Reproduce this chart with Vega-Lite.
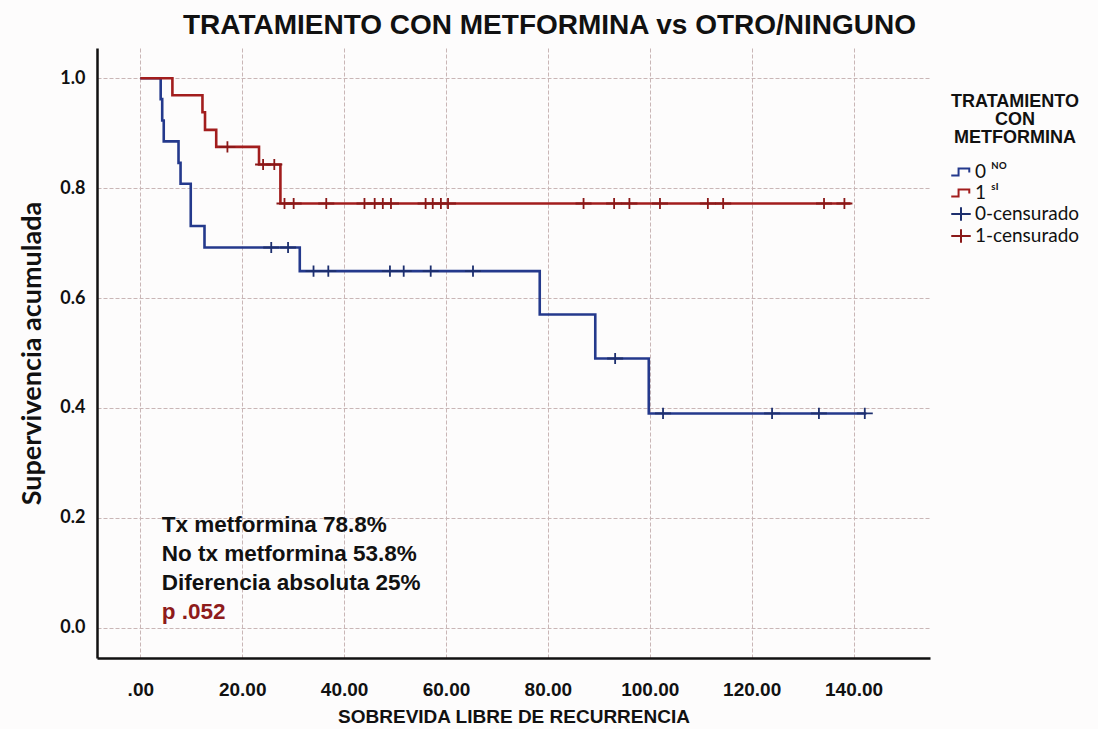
{
  "$schema": "https://vega.github.io/schema/vega-lite/v6.json",
  "width": 833,
  "height": 610,
  "autosize": {"type": "none"},
  "padding": {"left": 97, "top": 48, "right": 168, "bottom": 71},
  "background": "#fdfcfc",
  "title": {
    "text": "TRATAMIENTO CON METFORMINA vs OTRO/NINGUNO",
    "font": "Liberation Sans, Arial, sans-serif",
    "fontSize": 28,
    "fontWeight": "bold",
    "color": "#111111",
    "anchor": "middle",
    "dx": 36,
    "offset": 8
  },
  "datasets": {
    "curvas": [
      {"grupo": "0", "t": 0, "s": 1.0},
      {"grupo": "0", "t": 4.0, "s": 0.962},
      {"grupo": "0", "t": 4.3, "s": 0.923},
      {"grupo": "0", "t": 4.6, "s": 0.885},
      {"grupo": "0", "t": 7.5, "s": 0.846},
      {"grupo": "0", "t": 7.9, "s": 0.808},
      {"grupo": "0", "t": 9.9, "s": 0.731},
      {"grupo": "0", "t": 12.6, "s": 0.692},
      {"grupo": "0", "t": 31.3, "s": 0.649},
      {"grupo": "0", "t": 78.4, "s": 0.57},
      {"grupo": "0", "t": 89.3, "s": 0.49},
      {"grupo": "0", "t": 99.8, "s": 0.39},
      {"grupo": "0", "t": 142.5, "s": 0.39},
      {"grupo": "1", "t": 0, "s": 1.0},
      {"grupo": "1", "t": 6.3, "s": 0.969},
      {"grupo": "1", "t": 12.2, "s": 0.938},
      {"grupo": "1", "t": 12.7, "s": 0.906},
      {"grupo": "1", "t": 14.9, "s": 0.875},
      {"grupo": "1", "t": 23.3, "s": 0.843},
      {"grupo": "1", "t": 27.5, "s": 0.772},
      {"grupo": "1", "t": 139.4, "s": 0.772}
    ],
    "censurados": [
      {"grupo": "0-censurado", "t": 25.7, "s": 0.692},
      {"grupo": "0-censurado", "t": 29.0, "s": 0.692},
      {"grupo": "0-censurado", "t": 34.0, "s": 0.649},
      {"grupo": "0-censurado", "t": 36.9, "s": 0.649},
      {"grupo": "0-censurado", "t": 49.0, "s": 0.649},
      {"grupo": "0-censurado", "t": 51.7, "s": 0.649},
      {"grupo": "0-censurado", "t": 57.0, "s": 0.649},
      {"grupo": "0-censurado", "t": 65.3, "s": 0.649},
      {"grupo": "0-censurado", "t": 93.2, "s": 0.49},
      {"grupo": "0-censurado", "t": 102.6, "s": 0.39},
      {"grupo": "0-censurado", "t": 124.0, "s": 0.39},
      {"grupo": "0-censurado", "t": 133.2, "s": 0.39},
      {"grupo": "0-censurado", "t": 142.2, "s": 0.39},
      {"grupo": "1-censurado", "t": 17.1, "s": 0.875},
      {"grupo": "1-censurado", "t": 24.1, "s": 0.843},
      {"grupo": "1-censurado", "t": 26.3, "s": 0.843},
      {"grupo": "1-censurado", "t": 28.3, "s": 0.772},
      {"grupo": "1-censurado", "t": 30.1, "s": 0.772},
      {"grupo": "1-censurado", "t": 36.5, "s": 0.772},
      {"grupo": "1-censurado", "t": 44.0, "s": 0.772},
      {"grupo": "1-censurado", "t": 46.0, "s": 0.772},
      {"grupo": "1-censurado", "t": 47.6, "s": 0.772},
      {"grupo": "1-censurado", "t": 49.2, "s": 0.772},
      {"grupo": "1-censurado", "t": 56.0, "s": 0.772},
      {"grupo": "1-censurado", "t": 57.4, "s": 0.772},
      {"grupo": "1-censurado", "t": 59.0, "s": 0.772},
      {"grupo": "1-censurado", "t": 60.4, "s": 0.772},
      {"grupo": "1-censurado", "t": 87.0, "s": 0.772},
      {"grupo": "1-censurado", "t": 93.0, "s": 0.772},
      {"grupo": "1-censurado", "t": 96.0, "s": 0.772},
      {"grupo": "1-censurado", "t": 102.0, "s": 0.772},
      {"grupo": "1-censurado", "t": 111.4, "s": 0.772},
      {"grupo": "1-censurado", "t": 114.4, "s": 0.772},
      {"grupo": "1-censurado", "t": 134.2, "s": 0.772},
      {"grupo": "1-censurado", "t": 138.2, "s": 0.772}
    ]
  },
  "layer": [
    {
      "data": {"name": "curvas"},
      "mark": {"type": "line", "interpolate": "step-after", "strokeWidth": 2.6},
      "encoding": {
        "x": {
          "field": "t",
          "type": "quantitative",
          "scale": {"domain": [-8.5, 155], "nice": false, "zero": false},
          "axis": {
            "values": [0, 20, 40, 60, 80, 100, 120, 140],
            "labelExpr": "datum.value === 0 ? '.00' : format(datum.value, '.2f')",
            "title": "SOBREVIDA LIBRE DE RECURRENCIA",
            "titleFont": "Liberation Sans, Arial, sans-serif",
            "titleFontSize": 19,
            "titleFontWeight": "bold",
            "titleColor": "#111111",
            "titlePadding": 8,
            "labelFont": "Liberation Sans, Arial, sans-serif",
            "labelFontSize": 19,
            "labelFontWeight": "bold",
            "labelColor": "#111111",
            "labelPadding": 22,
            "ticks": false,
            "domainColor": "#111111",
            "domainWidth": 2.5,
            "grid": true,
            "gridColor": "#c9b6b6",
            "gridDash": [4, 2],
            "gridWidth": 1
          }
        },
        "y": {
          "field": "s",
          "type": "quantitative",
          "scale": {"domain": [-0.055, 1.055], "nice": false, "zero": false},
          "axis": {
            "values": [0, 0.2, 0.4, 0.6, 0.8, 1.0],
            "format": ".1f",
            "title": "Supervivencia acumulada",
            "titleFont": "Lato, sans-serif",
            "titleFontSize": 27,
            "titleFontWeight": "bold",
            "titleColor": "#111111",
            "titlePadding": 13,
            "labelFont": "Lato, sans-serif",
            "labelFontSize": 18,
            "labelFontWeight": "bold",
            "labelColor": "#111111",
            "labelPadding": 12,
            "ticks": false,
            "domainColor": "#111111",
            "domainWidth": 2.5,
            "grid": true,
            "gridColor": "#c9b6b6",
            "gridDash": [4, 2],
            "gridWidth": 1
          }
        },
        "color": {
          "field": "grupo",
          "type": "nominal",
          "scale": {
            "domain": ["0", "1", "0-censurado", "1-censurado"],
            "range": ["#24398c", "#a21d1d", "#1d2f6e", "#8a1818"]
          },
          "legend": {
            "title": ["TRATAMIENTO", "CON", "METFORMINA"],
            "orient": "none",
            "legendX": 853,
            "legendY": 45,
            "labelExpr": "datum.label === '0' ? '0  ᴺᴼ' : datum.label === '1' ? '1  ˢᴵ' : datum.label"
          }
        }
      }
    },
    {
      "data": {"name": "censurados"},
      "mark": {"type": "point", "filled": false, "strokeWidth": 1.8, "size": 256, "opacity": 1},
      "encoding": {
        "x": {"field": "t", "type": "quantitative"},
        "y": {"field": "s", "type": "quantitative"},
        "color": {
          "field": "grupo",
          "type": "nominal",
          "legend": {
            "title": ["TRATAMIENTO", "CON", "METFORMINA"],
            "orient": "none",
            "legendX": 853,
            "legendY": 45,
            "labelExpr": "datum.label === '0' ? '0  ᴺᴼ' : datum.label === '1' ? '1  ˢᴵ' : datum.label"
          }
        },
        "shape": {
          "field": "grupo",
          "type": "nominal",
          "scale": {
            "domain": ["0", "1", "0-censurado", "1-censurado"],
            "range": [
              "M-1,0.35 L-0.25,0.35 L-0.25,-0.35 L0.85,-0.35 L0.85,0.05",
              "M-1,0.35 L-0.25,0.35 L-0.25,-0.35 L0.85,-0.35 L0.85,0.05",
              "M-1,0 L1,0 M0,-0.7 L0,0.7",
              "M-1,0 L1,0 M0,-0.7 L0,0.7"
            ]
          },
          "legend": {
            "title": ["TRATAMIENTO", "CON", "METFORMINA"],
            "orient": "none",
            "legendX": 853,
            "legendY": 45,
            "labelExpr": "datum.label === '0' ? '0  ᴺᴼ' : datum.label === '1' ? '1  ˢᴵ' : datum.label"
          }
        }
      }
    },
    {
      "data": {"values": [{}]},
      "mark": {
        "type": "text",
        "align": "left",
        "baseline": "alphabetic",
        "font": "Liberation Sans, Arial, sans-serif",
        "fontSize": 22.5,
        "fontWeight": "bold",
        "lineHeight": 29,
        "color": "#111111"
      },
      "encoding": {
        "x": {"datum": 4.2, "type": "quantitative"},
        "y": {"datum": 0.174, "type": "quantitative"},
        "text": {"value": ["Tx metformina 78.8%", "No tx metformina 53.8%", "Diferencia absoluta 25%"]}
      }
    },
    {
      "data": {"values": [{}]},
      "mark": {
        "type": "text",
        "align": "left",
        "baseline": "alphabetic",
        "font": "Liberation Sans, Arial, sans-serif",
        "fontSize": 22.5,
        "fontWeight": "bold",
        "color": "#8e1b1b"
      },
      "encoding": {
        "x": {"datum": 4.2, "type": "quantitative"},
        "y": {"datum": 0.016, "type": "quantitative"},
        "text": {"value": "p .052"}
      }
    }
  ],
  "config": {
    "view": {"stroke": null},
    "legend": {
      "titleFont": "Liberation Sans, Arial, sans-serif",
      "titleFontSize": 18,
      "titleFontWeight": "bold",
      "titleColor": "#111111",
      "titleLineHeight": 18,
      "titleAlign": "center",
      "titleAnchor": "middle",
      "titlePadding": 14,
      "labelFont": "Lato, DejaVu Sans, sans-serif",
      "labelFontSize": 19,
      "labelColor": "#111111",
      "labelOffset": 3,
      "symbolSize": 380,
      "symbolStrokeWidth": 2,
      "rowPadding": 0,
      "padding": 0
    }
  }
}
